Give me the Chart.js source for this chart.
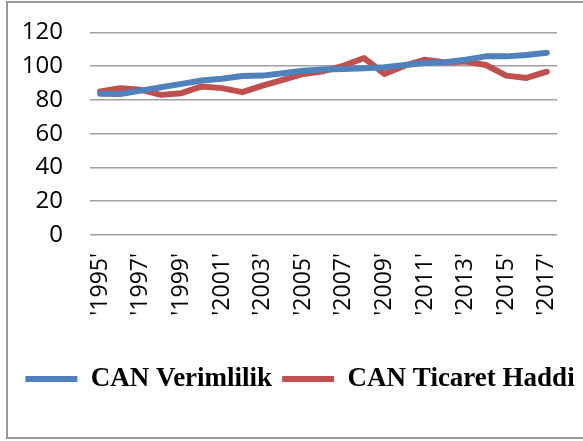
<!DOCTYPE html>
<html>
<head>
<meta charset="utf-8">
<script src="https://cdn.jsdelivr.net/npm/chart.js@4/dist/chart.umd.min.js"></script>
<style>
    html, body { margin: 0; padding: 0; background: #fff; overflow: hidden; }
    #wrap { position: relative; width: 583px; height: 441px; overflow: hidden; }
    #frame { position: absolute; left: 6px; top: 1px; width: 600px; height: 434px; border: 2px solid #999; }
    /* canvas sits a bit higher than the page so the plot top lands on the 120 line */
    #holder { position: absolute; left: 0; top: -9px; width: 600px; height: 450px; }
</style>
</head>
<body>
<div id="wrap">
    <div id="frame"></div>
    <div id="holder"><canvas id="myChart" width="600" height="450"></canvas></div>
</div>
<script>
// Years on the category axis (labels carry the quotes, as in the source)
const years = ["'1995'", "'1996'", "'1997'", "'1998'", "'1999'", "'2000'", "'2001'", "'2002'",
    "'2003'", "'2004'", "'2005'", "'2006'", "'2007'", "'2008'", "'2009'", "'2010'",
    "'2011'", "'2012'", "'2013'", "'2014'", "'2015'", "'2016'", "'2017'"];

// Series
const verimlilik = [83.6, 83.5, 85.5, 87.5, 89.5, 91.5, 92.5, 94.2, 94.4, 95.8, 97.3, 98,
    98.3, 98.7, 99.3, 100.7, 101.9, 102.3, 103.8, 105.8, 105.8, 106.6, 108];
const ticaretHaddi = [85, 87, 86, 83, 84, 88, 87, 84.6, 88.5, 91.9, 95.4, 97,
    100.3, 104.8, 95.4, 100.3, 103.8, 102.2, 102.8, 100.7, 94.4, 93, 96.7];

const seriesNames = ['CAN Verimlilik', 'CAN Ticaret Haddi'];
const yTicks = [0, 20, 40, 60, 80, 100, 120];

// Common line look for both datasets
function lineSet(label, data, color) {
    return {
        label: label,
        data: data,
        borderColor: color,
        backgroundColor: color,
        borderWidth: 6,
        pointRadius: 0,
        pointHoverRadius: 0,
        tension: 0,
        borderCapStyle: 'round',
        borderJoinStyle: 'round',
        pointStyle: 'line'
    };
}

function drawChart() {
    let ctx = document.getElementById('myChart').getContext('2d');

    new Chart(ctx, {
        type: 'line',
        data: {
            labels: years,
            datasets: [
                lineSet(seriesNames[0], verimlilik, '#4F81BD'),
                lineSet(seriesNames[1], ticaretHaddi, '#C0504D')
            ]
        },
        options: {
            responsive: false,
            animation: false,
            layout: { padding: { left: 0, right: 0, top: 26, bottom: 38.5 } },
            plugins: {
                tooltip: { enabled: false },
                legend: {
                    position: 'bottom',
                    labels: {
                        usePointStyle: true,
                        pointStyleWidth: 52,
                        padding: 10,
                        color: '#000',
                        font: { family: '"Liberation Serif", "Times New Roman", serif', size: 27, weight: 'bold' }
                    }
                }
            },
            scales: {
                x: {
                    offset: true,
                    afterFit: function (scale) { scale.height = 120.5; },
                    grid: { display: false, drawTicks: false },
                    border: { display: false },
                    ticks: {
                        autoSkip: false,
                        minRotation: 90,
                        maxRotation: 90,
                        padding: 18,
                        color: '#000',
                        font: { family: '"Open Sans", sans-serif', size: 23 },
                        // only every other year gets a label
                        callback: function (val, i) { return i % 2 === 0 ? years[i] : ''; }
                    }
                },
                y: {
                    min: 0,
                    max: 120,
                    afterFit: function (scale) { scale.width = 90; },
                    afterBuildTicks: function (scale) { scale.ticks = yTicks.map(v => ({ value: v })); },
                    grid: { color: '#a0a0a0', lineWidth: 1.5, drawTicks: false },
                    border: { display: false },
                    ticks: {
                        padding: 27,
                        color: '#000',
                        font: { family: '"Open Sans", sans-serif', size: 24 }
                    }
                },
                // empty right axis, only to keep the plot clear of the right edge
                y2: {
                    position: 'right',
                    afterFit: function (scale) { scale.width = 43; },
                    grid: { display: false, drawTicks: false },
                    border: { display: false },
                    ticks: { display: false }
                }
            }
        }
    });
}

// Make sure the fonts are ready before the canvas text is drawn
document.addEventListener('DOMContentLoaded', () => {
    Promise.all([
        document.fonts.load('24px "Open Sans"'),
        document.fonts.load('bold 27px "Liberation Serif"')
    ]).then(drawChart, drawChart);
});
</script>
</body>
</html>
